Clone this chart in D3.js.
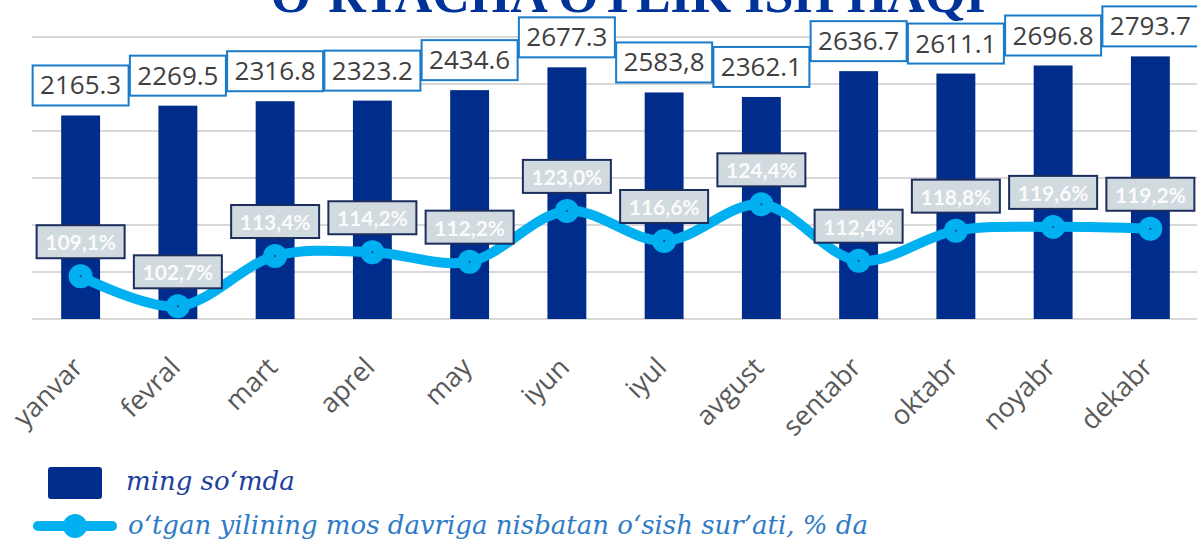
<!DOCTYPE html>
<html>
<head>
<meta charset="utf-8">
<script src="https://cdn.jsdelivr.net/npm/d3@7"></script>
<style>
  body { margin: 0; background: #fff; }
  svg { display: block; }
</style>
</head>
<body>
<svg width="1197" height="540"></svg>
<script>
// months on the x axis
const months = ["yanvar", "fevral", "mart", "aprel", "may", "iyun",
                "iyul", "avgust", "sentabr", "oktabr", "noyabr", "dekabr"];

// average wage, thousand so'm (bar heights as drawn)
const wages = [2165.3, 2269.5, 2316.8, 2323.2, 2434.6, 2677.3,
               2410.0, 2362.1, 2636.7, 2611.1, 2696.8, 2793.7];

// text shown on the bar labels
const wageLabels = ["2165.3", "2269.5", "2316.8", "2323.2", "2434.6", "2677.3",
                    "2583,8", "2362.1", "2636.7", "2611.1", "2696.8", "2793.7"];

// growth rate vs same period of previous year, %
const growth = [109.1, 102.7, 113.4, 114.2, 112.2, 123.0,
                116.6, 124.4, 112.4, 118.8, 119.6, 119.2];

const growthLabels = ["109,1%", "102,7%", "113,4%", "114,2%", "112,2%", "123,0%",
                      "116,6%", "124,4%", "112,4%", "118,8%", "119,6%", "119,2%"];

const wageTicks = [0, 500, 1000, 1500, 2000, 2500, 3000];

const svg = d3.select("svg");

var x = d3.scaleBand()
    .domain(months)
    .range([32, 1199])
    .paddingInner(0.6)
    .paddingOuter(0.3);

var y = d3.scaleLinear().domain([0, 3000]).range([319, 37]);
var y2 = d3.scaleLinear().domain([100, 160]).range([319, 37]);

// title (cut off at the top edge, like the source)
svg.append("text")
    .attr("x", 628)
    .attr("y", 12)
    .attr("text-anchor", "middle")
    .style("font-family", "'Liberation Serif', 'Times New Roman', serif")
    .style("font-weight", "bold")
    .style("font-size", "52px")
    .style("fill", "#003399")
    .text("O‘RTACHA OYLIK ISH HAQI");

// gridlines
svg.append("g")
    .selectAll("line")
    .data(wageTicks)
    .enter().append("line")
    .attr("x1", 32)
    .attr("x2", 1197)
    .attr("y1", d => y(d))
    .attr("y2", d => y(d))
    .style("stroke", "#d9d9d9")
    .style("stroke-width", 2);

// bars
svg.append("g")
    .selectAll("rect")
    .data(wages)
    .enter().append("rect")
    .attr("x", (d, i) => x(months[i]))
    .attr("y", d => y(d))
    .attr("width", x.bandwidth())
    .attr("height", d => y(0) - y(d))
    .style("fill", "#002d8b");

// bar value labels
var barLab = svg.append("g")
    .selectAll("g")
    .data(wages)
    .enter().append("g")
    .attr("transform", (d, i) => "translate(" + (x(months[i]) + x.bandwidth() / 2) + "," + (y(d) - 10) + ")");

barLab.append("rect")
    .attr("x", -48)
    .attr("y", -40)
    .attr("width", 96)
    .attr("height", 40)
    .style("fill", "#fff")
    .style("stroke", "#1a7bc9")
    .style("stroke-width", 2);

barLab.append("text")
    .attr("y", -11)
    .attr("text-anchor", "middle")
    .style("font-family", "'Open Sans', sans-serif")
    .style("font-size", "26px")
    .style("fill", "#404040")
    .text((d, i) => wageLabels[i]);

// x axis labels
svg.append("g")
    .selectAll("text")
    .data(months)
    .enter().append("text")
    .attr("transform", d => "translate(" + (x(d) + x.bandwidth() / 2 + 4) + ",369) rotate(-45)")
    .attr("text-anchor", "end")
    .style("font-family", "'Open Sans', sans-serif")
    .style("font-size", "27px")
    .style("fill", "#595959")
    .text(d => d);

// growth line
var line = d3.line()
    .x((d, i) => x(months[i]) + x.bandwidth() / 2)
    .y(d => y2(d))
    .curve(d3.curveCatmullRom.alpha(0.5));

svg.append("path")
    .datum(growth)
    .attr("d", line)
    .style("fill", "none")
    .style("stroke", "#00b0f0")
    .style("stroke-width", 10)
    .style("stroke-linecap", "round");

var pts = svg.append("g")
    .selectAll("g")
    .data(growth)
    .enter().append("g")
    .attr("transform", (d, i) => "translate(" + (x(months[i]) + x.bandwidth() / 2) + "," + y2(d) + ")");

pts.append("circle")
    .attr("r", 12)
    .style("fill", "#00b0f0");

pts.append("circle")
    .attr("r", 1)
    .style("fill", "#1f3864");

// growth labels
pts.append("rect")
    .attr("x", -44)
    .attr("y", -51)
    .attr("width", 88)
    .attr("height", 33)
    .style("fill", "#d0dadf")
    .style("stroke", "#1c2d5e")
    .style("stroke-width", 2);

pts.append("text")
    .attr("y", -26)
    .attr("text-anchor", "middle")
    .style("font-family", "Lato, sans-serif")
    .style("font-weight", "bold")
    .style("font-size", "21px")
    .style("fill", "#fbfbfb")
    .text((d, i) => growthLabels[i]);

// legend
var legend = svg.append("g");

legend.append("rect")
    .attr("x", 48)
    .attr("y", 467)
    .attr("width", 54)
    .attr("height", 32)
    .attr("rx", 3)
    .style("fill", "#002d8b");

legend.append("text")
    .attr("x", 126)
    .attr("y", 490)
    .style("font-family", "'DejaVu Serif', serif")
    .style("font-style", "italic")
    .style("font-size", "26px")
    .style("fill", "#1d3f9e")
    .text("ming so‘mda");

legend.append("line")
    .attr("x1", 38)
    .attr("x2", 112)
    .attr("y1", 526)
    .attr("y2", 526)
    .style("stroke", "#00b0f0")
    .style("stroke-width", 10)
    .style("stroke-linecap", "round");

legend.append("circle")
    .attr("cx", 75)
    .attr("cy", 526)
    .attr("r", 12)
    .style("fill", "#00b0f0");

legend.append("text")
    .attr("x", 128)
    .attr("y", 534)
    .style("font-family", "'DejaVu Serif', serif")
    .style("font-style", "italic")
    .style("font-size", "26px")
    .style("fill", "#2e7bc6")
    .text("o‘tgan yilining mos davriga nisbatan o‘sish sur’ati, % da");
</script>
</body>
</html>
